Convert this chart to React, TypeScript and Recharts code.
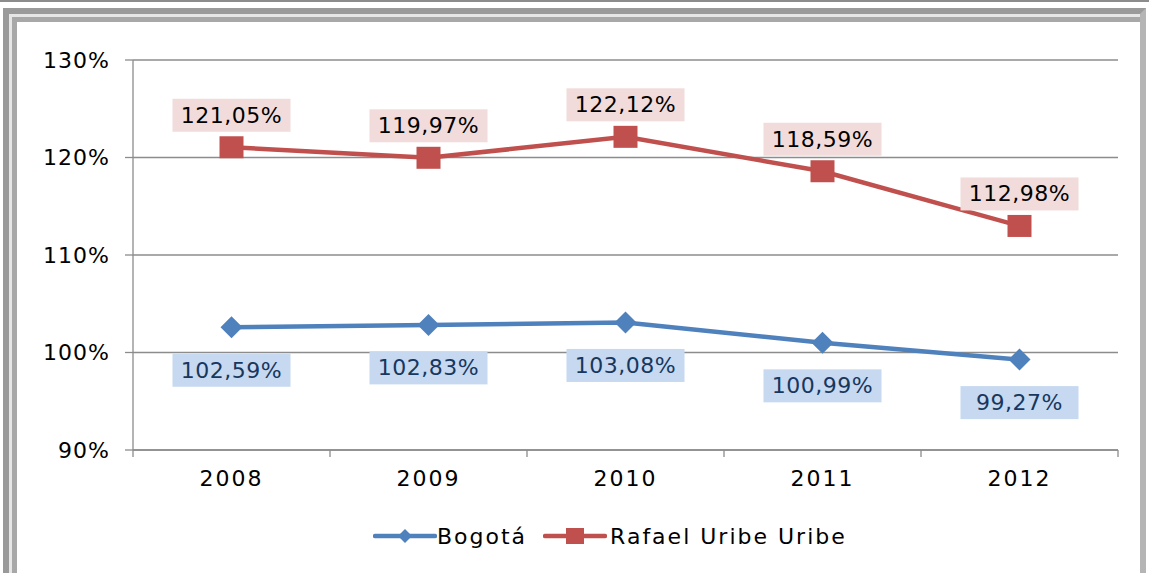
import React from 'react';
import { LineChart, Line, XAxis, YAxis, CartesianGrid, LabelList } from 'recharts';

const years = ['2008', '2009', '2010', '2011', '2012'];
const bogota = [102.59, 102.83, 103.08, 100.99, 99.27];
const rafael = [121.05, 119.97, 122.12, 118.59, 112.98];
const yTicks = [90, 100, 110, 120, 130];
const xTicks = [0, 0.5, 1, 1.5, 2, 2.5, 3, 3.5, 4, 4.5, 5];

const BLUE = '#4f81bd';
const RED = '#c0504d';
const GRID = '#8c8c8c';
const FONT = '"DejaVu Sans", sans-serif';

const data = years.map((y, i) => ({ year: y, pos: i + 0.5, bogota: bogota[i], rafael: rafael[i] }));

const fmt = (v: number) => v.toFixed(2).replace('.', ',') + '%';

const Diamond = (props: any) => {
  const { cx, cy } = props;
  if (cx == null || cy == null) return null;
  const r = 11;
  return <polygon points={`${cx},${cy - r} ${cx + r},${cy} ${cx},${cy + r} ${cx - r},${cy}`} fill={BLUE} />;
};

const Square = (props: any) => {
  const { cx, cy } = props;
  if (cx == null || cy == null) return null;
  return <rect x={cx - 12} y={cy - 11} width={24} height={22} fill={RED} />;
};

const XTick = (props: any) => {
  const { x, y, payload } = props;
  const v = payload.value as number;
  if (Number.isInteger(v)) {
    return <line x1={x} y1={y - 8} x2={x} y2={y - 1} stroke={GRID} strokeWidth={1.3} />;
  }
  const label = years[Math.floor(v)];
  return (
    <text x={x} y={y + 20} textAnchor="middle" dominantBaseline="central" fill="#000"
      style={{ fontFamily: FONT, fontSize: 22, letterSpacing: 2 }}>{label}</text>
  );
};

const makeLabel = (bg: string, color: string, dy: number) => (props: any) => {
  const { x, y, value } = props;
  if (x == null || y == null) return null;
  const w = 118;
  const h = 33;
  const cy = y + dy;
  return (
    <g>
      <rect x={x - w / 2} y={cy - h / 2} width={w} height={h} fill={bg} />
      <text x={x} y={cy} textAnchor="middle" dominantBaseline="central" fill={color}
        style={{ fontFamily: FONT, fontSize: 22, letterSpacing: 0.5 }}>{fmt(value)}</text>
    </g>
  );
};

const RedLabel = makeLabel('#f2dcdb', '#000000', -32);
const BlueLabel = makeLabel('#c6d9f1', '#17375e', 43);

export default function App() {
  return (
    <div style={{ position: 'absolute', left: 0, top: 0, width: 1149, height: 573, background: '#fff', overflow: 'hidden', fontFamily: FONT }}>
      <div style={{ position: 'absolute', left: 0, top: 0, width: 1149, height: 2, background: '#8c8c8c' }} />
      <div style={{ position: 'absolute', left: 3, top: 8, width: 1143, height: 570, boxSizing: 'border-box', borderTop: '6px solid #9a9a9a', borderLeft: '6px solid #9a9a9a', borderRight: '6px solid #b5b5b5', boxShadow: 'inset 3px 3px 0 #e6e6e6, inset 8px 8px 0 #a8a8a8' }} />
      <div style={{ position: 'absolute', left: 0, top: 0 }}>
        <LineChart width={1149} height={573} data={data} margin={{ top: 60, right: 31, bottom: 83, left: 23 }}>
          <CartesianGrid horizontal vertical={false} stroke={GRID} strokeWidth={1.3} />
          <XAxis dataKey="pos" type="number" domain={[0, 5]} ticks={xTicks} allowDataOverflow interval={0}
            height={40} tickLine={false} tick={<XTick />} stroke={GRID} strokeWidth={1.3} />
          <YAxis domain={[90, 130]} ticks={yTicks} width={110} tickSize={8} tickMargin={15}
            tickFormatter={(v: number) => `${v}%`} stroke={GRID} strokeWidth={1.3}
            tick={{ fill: '#000', fontSize: 22, fontFamily: FONT, letterSpacing: 1 }} />
          <Line dataKey="bogota" stroke={BLUE} strokeWidth={4.5} dot={<Diamond />} activeDot={false} isAnimationActive={false}>
            <LabelList dataKey="bogota" content={BlueLabel} />
          </Line>
          <Line dataKey="rafael" stroke={RED} strokeWidth={4.5} dot={<Square />} activeDot={false} isAnimationActive={false}>
            <LabelList dataKey="rafael" content={RedLabel} />
          </Line>
        </LineChart>
      </div>
      <div style={{ position: 'absolute', top: 521, left: 373, display: 'flex', alignItems: 'center', fontSize: 22, color: '#000', letterSpacing: 2 }}>
        <svg width={64} height={30}>
          <line x1={2} y1={15} x2={62} y2={15} stroke={BLUE} strokeWidth={4.5} strokeLinecap="round" />
          <polygon points="32,8 39,15 32,22 25,15" fill={BLUE} />
        </svg>
        <span style={{ marginLeft: 0, marginRight: 16 }}>Bogotá</span>
        <svg width={64} height={30}>
          <line x1={2} y1={15} x2={62} y2={15} stroke={RED} strokeWidth={4.5} strokeLinecap="round" />
          <rect x={23} y={7} width={18} height={16} fill={RED} />
        </svg>
        <span style={{ marginLeft: 3 }}>Rafael Uribe Uribe</span>
      </div>
    </div>
  );
}
